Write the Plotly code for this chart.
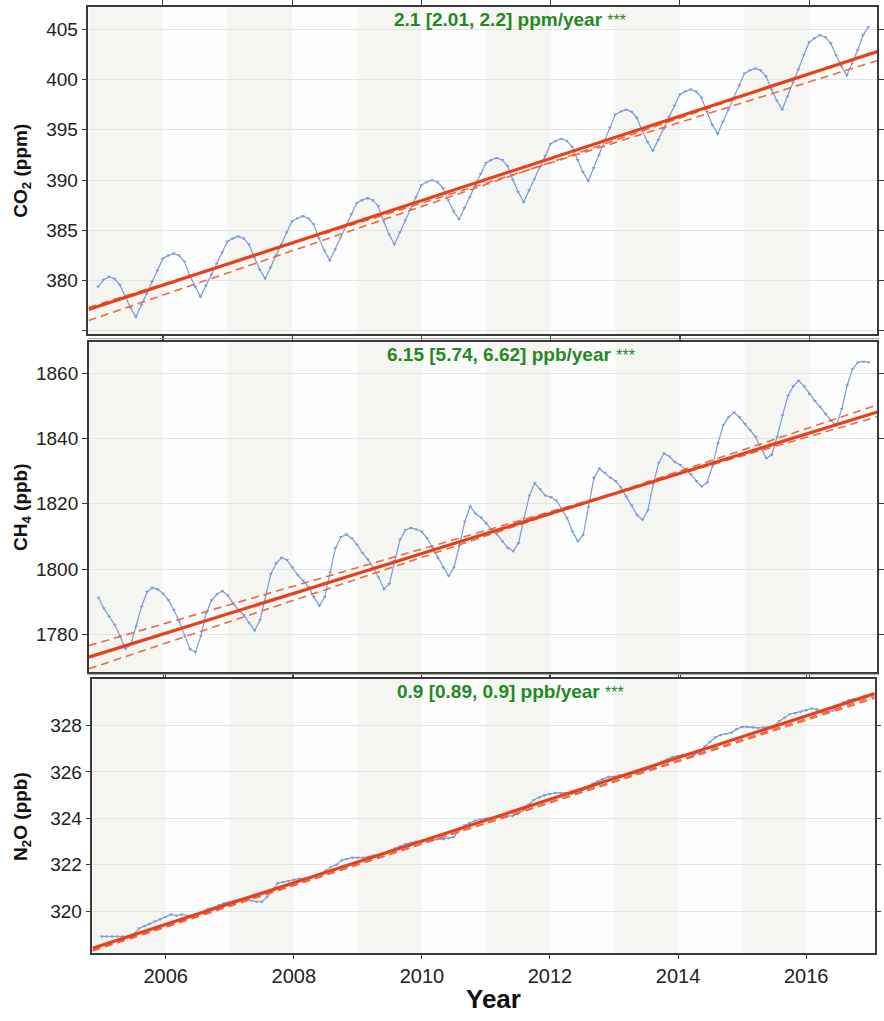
import numpy as np
import plotly.graph_objects as go

# ---------------------------------------------------------------
# Monthly mean concentrations, Jan 2005 - Dec 2016
# ---------------------------------------------------------------
years = list(range(2005, 2017))
month_index = list(range(12))

co2_ppm = [
    379.4, 380.1, 380.4, 380.2, 379.6, 378.4, 377.3, 376.4, 377.6, 378.7, 379.9, 381.0,  # 2005
    382.2, 382.5, 382.7, 382.5, 381.9, 380.5, 379.4, 378.4, 379.5, 380.6, 381.7, 382.8,  # 2006
    383.9, 384.2, 384.4, 384.2, 383.6, 382.3, 381.1, 380.2, 381.3, 382.5, 383.6, 384.8,  # 2007
    385.9, 386.2, 386.4, 386.2, 385.6, 384.2, 383.0, 382.0, 383.1, 384.3, 385.4, 386.6,  # 2008
    387.7, 388.0, 388.2, 388.0, 387.4, 385.9, 384.6, 383.6, 384.8, 386.0, 387.1, 388.3,  # 2009
    389.5, 389.8, 390.0, 389.8, 389.2, 388.0, 386.9, 386.1, 387.2, 388.3, 389.5, 390.6,  # 2010
    391.7, 392.0, 392.2, 392.0, 391.4, 390.0, 388.8, 387.8, 389.0, 390.1, 391.3, 392.4,  # 2011
    393.6, 393.9, 394.1, 393.9, 393.3, 392.0, 390.8, 389.9, 391.2, 392.5, 393.9, 395.2,  # 2012
    396.5, 396.8, 397.0, 396.8, 396.2, 394.9, 393.8, 392.9, 394.0, 395.1, 396.3, 397.4,  # 2013
    398.5, 398.8, 399.0, 398.8, 398.2, 396.8, 395.5, 394.6, 395.8, 397.0, 398.2, 399.4,  # 2014
    400.6, 400.9, 401.1, 400.9, 400.3, 399.0, 397.9, 397.0, 398.3, 399.7, 401.0, 402.4,  # 2015
    403.7, 404.1, 404.4, 404.2, 403.6, 402.4, 401.3, 400.4, 401.6, 402.9, 404.4, 405.2,  # 2016
]

ch4_ppb = [
    1791.3, 1788.0, 1785.5, 1783.0, 1779.5, 1775.6, 1777.0, 1782.5, 1788.5, 1793.0, 1794.3, 1793.8,  # 2005
    1792.5, 1790.5, 1787.5, 1784.0, 1779.5, 1775.5, 1774.6, 1779.5, 1786.5, 1790.5, 1792.3, 1793.3,  # 2006
    1792.0, 1789.5, 1787.5, 1786.0, 1783.5, 1781.2, 1784.5, 1792.0, 1798.5, 1801.8, 1803.5, 1802.8,  # 2007
    1800.5, 1798.2, 1796.5, 1794.5, 1791.5, 1788.8, 1791.5, 1799.0, 1806.5, 1809.8, 1810.6, 1809.5,  # 2008
    1807.5, 1805.0, 1803.0, 1800.5, 1797.5, 1793.9, 1795.5, 1802.5, 1809.0, 1812.0, 1812.6, 1812.2,  # 2009
    1811.5, 1809.5, 1806.5, 1803.5, 1800.5, 1797.9, 1800.5, 1807.0, 1814.5, 1819.2, 1817.0, 1815.8,  # 2010
    1814.0, 1812.0, 1810.6, 1808.5, 1806.5, 1805.5, 1808.0, 1815.5, 1822.5, 1826.3, 1824.5, 1822.5,  # 2011
    1822.0, 1821.0, 1818.5, 1815.6, 1811.5, 1808.5, 1810.5, 1819.0, 1828.0, 1830.8, 1829.5, 1828.0,  # 2012
    1827.0, 1825.0, 1822.2, 1819.5, 1816.5, 1815.1, 1818.0, 1826.0, 1832.5, 1835.4, 1834.5, 1832.8,  # 2013
    1831.9, 1830.5, 1829.0, 1827.0, 1825.3, 1826.5, 1831.5, 1838.5, 1844.0, 1846.5, 1848.0, 1846.5,  # 2014
    1844.5, 1842.5, 1840.5, 1837.0, 1833.9, 1835.0, 1840.5, 1847.0, 1853.0, 1856.0, 1857.7, 1856.0,  # 2015
    1853.6, 1851.5, 1849.6, 1847.5, 1845.5, 1844.0, 1849.0, 1856.2, 1861.2, 1863.3, 1863.5, 1863.3,  # 2016
]

n2o_ppb = [
    318.90, 318.90, 318.90, 318.90, 318.90, 318.90, 319.00, 319.25, 319.35, 319.45, 319.55, 319.65,  # 2005
    319.75, 319.85, 319.80, 319.85, 319.80, 319.80, 319.85, 319.95, 320.10, 320.15, 320.25, 320.35,  # 2006
    320.40, 320.45, 320.50, 320.50, 320.45, 320.40, 320.40, 320.60, 320.90, 321.20, 321.25, 321.30,  # 2007
    321.35, 321.40, 321.40, 321.45, 321.50, 321.60, 321.75, 321.90, 322.00, 322.20, 322.25, 322.30,  # 2008
    322.30, 322.30, 322.35, 322.40, 322.40, 322.50, 322.60, 322.70, 322.80, 322.90, 322.95, 323.00,  # 2009
    323.00, 323.05, 323.05, 323.10, 323.10, 323.15, 323.20, 323.50, 323.70, 323.80, 323.90, 323.95,  # 2010
    324.00, 324.00, 324.05, 324.05, 324.10, 324.10, 324.20, 324.35, 324.60, 324.80, 324.90, 325.00,  # 2011
    325.05, 325.10, 325.10, 325.10, 325.05, 325.10, 325.20, 325.30, 325.50, 325.60, 325.70, 325.80,  # 2012
    325.80, 325.85, 325.85, 325.90, 325.95, 326.00, 326.10, 326.15, 326.30, 326.45, 326.55, 326.65,  # 2013
    326.70, 326.75, 326.75, 326.75, 326.85, 327.10, 327.30, 327.50, 327.60, 327.65, 327.70, 327.85,  # 2014
    327.95, 327.95, 327.92, 327.90, 327.92, 327.95, 328.00, 328.20, 328.35, 328.50, 328.55, 328.60,  # 2015
    328.67, 328.74, 328.70, 328.60, 328.60, 328.65, 328.90, 329.00, 329.10, 329.15, 329.20, 329.30,  # 2016
]

# Theil-Sen trends: slope per year [central, lower CI, upper CI]
# and the fitted level of each line at the start of 2011
co2_slopes = [2.1, 2.01, 2.2]
co2_level_2011 = [390.05, 389.7, 389.56]
ch4_slopes = [6.15, 5.74, 6.62]
ch4_level_2011 = [1810.9, 1811.9, 1810.2]
n2o_slopes = [0.9, 0.89, 0.9]
n2o_level_2011 = [323.92, 323.78, 323.80]

trend_labels = [
    "2.1 [2.01, 2.2] ppm/year",
    "6.15 [5.74, 6.62] ppb/year",
    "0.9 [0.89, 0.9] ppb/year",
]
y_titles = ["CO<sub>2</sub> (ppm)", "CH<sub>4</sub> (ppb)", "N<sub>2</sub>O (ppb)"]
x_tick_years = [2006, 2008, 2010, 2012, 2014, 2016]

# decimal-year time axis for the monthly values
t = np.array([y + m / 12.0 for y in years for m in month_index])

# ---------------------------------------------------------------
# Layout geometry (pixels on an 884 x 1021 page)
# ---------------------------------------------------------------
W, H = 884, 1021


def fx(p):
    return p / W


def fy(p):
    return 1 - p / H


panels = [
    dict(series=co2_ppm, slopes=co2_slopes, levels=co2_level_2011,
         xpx=(89, 882), ypx=(7.3, 336.7), xr=(2004.85, 2017.05), yr=(374.66, 407.17),
         yticks=[375, 380, 385, 390, 395, 400, 405], hide_first=True),
    dict(series=ch4_ppb, slopes=ch4_slopes, levels=ch4_level_2011,
         xpx=(89.3, 882.3), ypx=(344.7, 676.7), xr=(2004.85, 2017.05), yr=(1768.5, 1869.4),
         yticks=[1780, 1800, 1820, 1840, 1860], hide_first=False),
    dict(series=n2o_ppb, slopes=n2o_slopes, levels=n2o_level_2011,
         xpx=(93, 879.7), ypx=(684, 959.3), xr=(2004.857, 2017.07), yr=(318.2, 330.0),
         yticks=[320, 322, 324, 326, 328], hide_first=False),
]

BLUE = "#7b9bd6"
RED = "#e8401b"
RED_DASH = "#ea6a45"
GREEN = "#1f8a22"
AXIS = "#3a3a3a"
FONT = "Liberation Sans, Arial, sans-serif"

fig = go.Figure()
shapes = []
annotations = []
layout_axes = {}

for i, p in enumerate(panels):
    n = "" if i == 0 else str(i + 1)
    xa, ya = "x" + n, "y" + n

    # monthly observations
    fig.add_trace(go.Scatter(
        x=t, y=p["series"], xaxis=xa, yaxis=ya, mode="lines+markers",
        line=dict(color=BLUE, width=1.2),
        marker=dict(symbol="triangle-down", size=3.5, color=BLUE),
        showlegend=False, hoverinfo="skip",
    ))

    # trend lines (central solid, confidence bounds dashed)
    xs = np.array(p["xr"])
    for k in (1, 2):
        fig.add_trace(go.Scatter(
            x=xs, y=p["levels"][k] + p["slopes"][k] * (xs - 2011.0),
            xaxis=xa, yaxis=ya, mode="lines",
            line=dict(color=RED_DASH, width=1.6, dash="8px,5px"),
            showlegend=False, hoverinfo="skip",
        ))
    fig.add_trace(go.Scatter(
        x=xs, y=p["levels"][0] + p["slopes"][0] * (xs - 2011.0),
        xaxis=xa, yaxis=ya, mode="lines",
        line=dict(color=RED, width=3.2),
        showlegend=False, hoverinfo="skip",
    ))

    # alternating yearly background bands
    for yr in range(2005, 2017, 2):
        shapes.append(dict(
            type="rect", xref=xa, yref=ya + " domain",
            x0=yr if yr > 2005 else p["xr"][0], x1=yr + 1,
            y0=0, y1=1, fillcolor="#f5f5f2", line=dict(width=0), layer="below",
        ))

    yt = p["yticks"]
    ytext = [str(v) for v in yt]
    if p["hide_first"]:
        ytext[0] = " "

    layout_axes["xaxis" + n] = dict(
        domain=[fx(p["xpx"][0]), fx(p["xpx"][1])], range=list(p["xr"]),
        anchor=ya, showgrid=False, zeroline=False,
        showline=True, linecolor=AXIS, linewidth=1.5, mirror="ticks",
        ticks="outside", ticklen=5, tickcolor=AXIS, tickwidth=1.2,
        tickvals=x_tick_years, ticktext=[str(v) for v in x_tick_years],
        showticklabels=(i == 2),
        tickfont=dict(family=FONT, size=20, color="#222"),
    )
    layout_axes["yaxis" + n] = dict(
        domain=[fy(p["ypx"][1]), fy(p["ypx"][0])], range=list(p["yr"]),
        anchor=xa, showgrid=True, gridcolor="#e4e4e4", gridwidth=1, zeroline=False,
        showline=True, linecolor=AXIS, linewidth=1.5, mirror="ticks",
        ticks="outside", ticklen=5, tickcolor=AXIS, tickwidth=1.2,
        tickvals=yt, ticktext=ytext,
        tickfont=dict(family=FONT, size=19, color="#222"),
    )

    # y-axis title
    annotations.append(dict(
        xref="paper", yref="paper", x=fx(22), y=fy((p["ypx"][0] + p["ypx"][1]) / 2),
        text="<b>" + y_titles[i] + "</b>", textangle=-90, showarrow=False,
        font=dict(family=FONT, size=19, color="#111"), xanchor="center", yanchor="middle",
    ))

    # trend estimate label; the asterisk glyph sits high on the line by itself
    annotations.append(dict(
        xref=xa + " domain", yref=ya + " domain", x=0.535,
        y=1 - 12.5 / (p["ypx"][1] - p["ypx"][0]),
        text="<b>" + trend_labels[i] + "</b> <span style='font-size:16px'>***</span>",
        showarrow=False,
        font=dict(family=FONT, size=19, color=GREEN), xanchor="center", yanchor="middle",
    ))

# thin outer frame lines around the middle panel
for yline in (341.0, 679.0):
    shapes.append(dict(type="line", xref="paper", yref="paper",
                       x0=fx(88), x1=fx(884), y0=fy(yline), y1=fy(yline),
                       line=dict(color="#9a9a9a", width=1)))

annotations.append(dict(
    xref="paper", yref="paper", x=fx(496), y=fy(1006), text="<b>Year</b>",
    showarrow=False, font=dict(family=FONT, size=26, color="#111"),
    xanchor="center", yanchor="middle",
))

fig.update_layout(
    width=W, height=H, margin=dict(l=0, r=0, t=0, b=0),
    paper_bgcolor="white", plot_bgcolor="#fdfdfd",
    shapes=shapes, annotations=annotations, showlegend=False,
    **layout_axes,
)

fig.write_html("out.html")
